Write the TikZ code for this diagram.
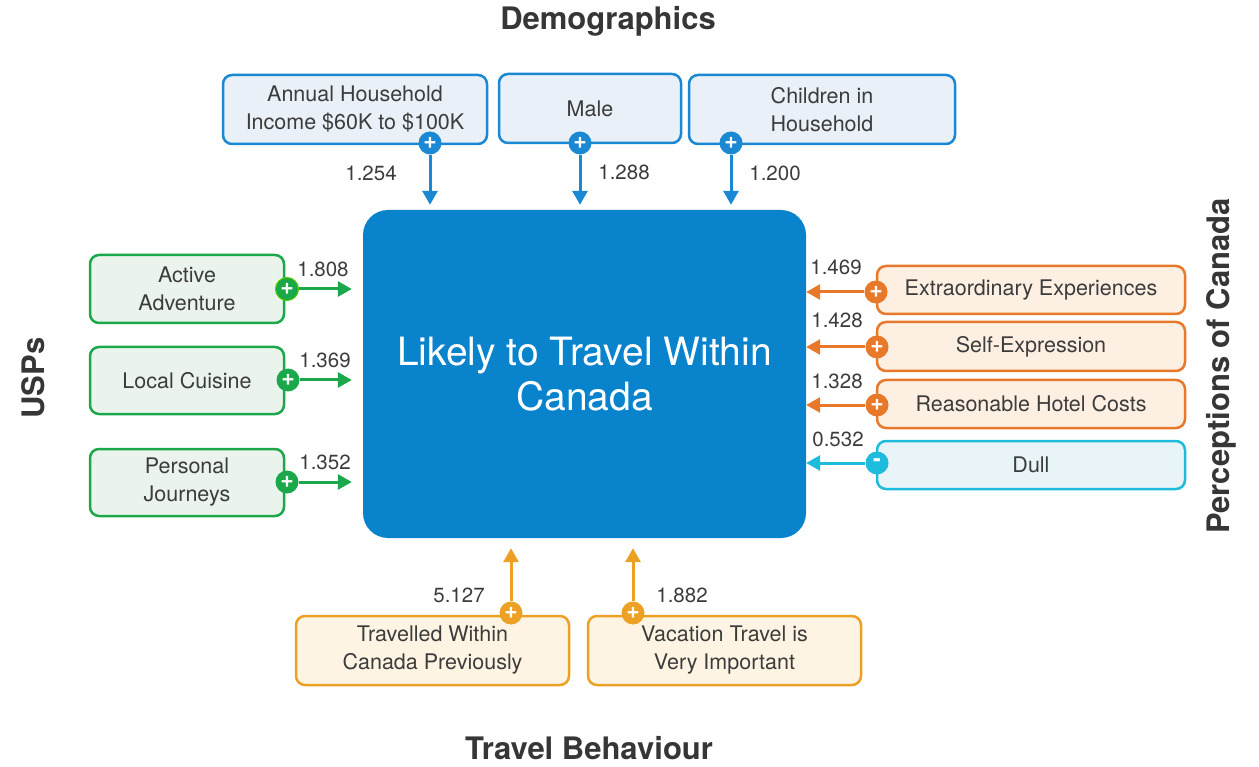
\documentclass[tikz,border=0pt]{standalone}
\usepackage{fontspec}
\setmainfont{TeX Gyre Heros}
\usepackage{xcolor}
\usetikzlibrary{arrows.meta,positioning,calc}

\definecolor{mainblue}{HTML}{0A83CD}
\definecolor{demoline}{HTML}{1A88D2}
\definecolor{demofill}{HTML}{E9F0F8}
\definecolor{uspline}{HTML}{1BA84B}
\definecolor{uspfill}{HTML}{EAF4EC}
\definecolor{percline}{HTML}{E8782A}
\definecolor{percfill}{HTML}{FDEFE1}
\definecolor{dullline}{HTML}{1DBCDC}
\definecolor{dullfill}{HTML}{E8F4F7}
\definecolor{travline}{HTML}{EDA124}
\definecolor{travfill}{HTML}{FEF4E3}
\definecolor{txt}{HTML}{3C3C3C}

\begin{document}
\begin{tikzpicture}[x=1pt, y=-1pt,
    factor/.style 2 args={draw=#1, fill=#2, line width=2.5pt, rounded corners=9pt,
        align=center, text=txt, inner sep=0pt, font=\fontsize{21.5}{28}\selectfont},
    sign/.style={circle, fill=#1, text=white, inner sep=0pt, minimum size=23pt,
        font=\bfseries\fontsize{23}{23}\selectfont},
    flow/.style={draw=#1, line width=3pt, -{Triangle[length=14pt,width=15pt]}},
    val/.style={text=txt, font=\fontsize{20.5}{20.5}\selectfont},
    heading/.style={text=txt!90!black, font=\bfseries\fontsize{31}{31}\selectfont}]
    \useasboundingbox (0,0) rectangle (1259,767);

    % Centre box
    \node[fill=mainblue, rounded corners=25pt, minimum width=443pt, minimum height=328pt,
        text=white, align=center, font=\fontsize{39}{45}\selectfont] (main) at (584.5,374)
        {Likely to Travel Within\\Canada};

    % Demographics
    \node[heading] (demo) at (608,21) {Demographics};
    \node[factor={demoline}{demofill}, minimum width=264pt, minimum height=69pt] (income) at (355,109.5)
        {Annual Household\\Income \$60K to \$100K};
    \node[factor={demoline}{demofill}, minimum width=182pt, minimum height=69pt] (male) at (590,108.5) {Male};
    \node[factor={demoline}{demofill}, minimum width=266pt, minimum height=69pt] (kids) at (822,109.5)
        {Children in\\Household};
    \node[sign=demoline] (s-income) at (430,143) {+};
    \node[sign=demoline] (s-male) at (580,143) {+};
    \node[sign=demoline] (s-kids) at (731,143) {+};
    \draw[flow=demoline, shorten >=5pt] (s-income) -- (s-income |- main.north);
    \draw[flow=demoline, shorten >=5pt] (s-male) -- (s-male |- main.north);
    \draw[flow=demoline, shorten >=5pt] (s-kids) -- (s-kids |- main.north);
    \node[val] (v-income) at (371,173) {1.254};
    \node[val] (v-male) at (624,172) {1.288};
    \node[val] (v-kids) at (775,173) {1.200};

    % USPs
    \node[heading, rotate=90] (usp) at (33,378) {USPs};
    \node[factor={uspline}{uspfill}, minimum width=194pt, minimum height=68pt] (adv) at (187,289) {Active\\Adventure};
    \node[factor={uspline}{uspfill}, minimum width=194pt, minimum height=67pt] (food) at (187,380.5) {Local Cuisine};
    \node[factor={uspline}{uspfill}, minimum width=194pt, minimum height=67pt] (journ) at (187,482.5) {Personal\\Journeys};
    \node[sign=uspline, draw=green!60!yellow!80!black, line width=1pt] (s-adv) at (287,289) {+};
    \node[sign=uspline] (s-food) at (288,380) {+};
    \node[sign=uspline] (s-journ) at (287,482) {+};
    \draw[flow=uspline, shorten >=11pt] (s-adv) -- (s-adv -| main.west);
    \draw[flow=uspline, shorten >=11pt] (s-food) -- (s-food -| main.west);
    \draw[flow=uspline, shorten >=11pt] (s-journ) -- (s-journ -| main.west);
    \node[val] (v-adv) at (323,269) {1.808};
    \node[val] (v-food) at (325,360) {1.369};
    \node[val] (v-journ) at (325,462) {1.352};

    % Perceptions of Canada
    \node[heading, rotate=90] (perc) at (1221,366) {Perceptions of Canada};
    \node[factor={percline}{percfill}, minimum width=308pt, minimum height=48pt] (extra) at (1031,290) {Extraordinary Experiences};
    \node[factor={percline}{percfill}, minimum width=308pt, minimum height=49pt] (self) at (1031,346.5) {Self-Expression};
    \node[factor={percline}{percfill}, minimum width=308pt, minimum height=48pt] (hotel) at (1031,404) {Reasonable Hotel Costs};
    \node[factor={dullline}{dullfill}, minimum width=308pt, minimum height=48pt] (dull) at (1031,465) {Dull};
    \node[sign=percline] (s-extra) at (876,292) {+};
    \node[sign=percline] (s-self) at (877,347) {+};
    \node[sign=percline] (s-hotel) at (877,405) {+};
    \node[sign=dullline] (s-dull) at (877,463) {-};
    \draw[flow=percline] (s-extra) -- (s-extra -| main.east);
    \draw[flow=percline] (s-self) -- (s-self -| main.east);
    \draw[flow=percline] (s-hotel) -- (s-hotel -| main.east);
    \draw[flow=dullline] (s-dull) -- (s-dull -| main.east);
    \node[val] (v-extra) at (836,267) {1.469};
    \node[val] (v-self) at (837,320) {1.428};
    \node[val] (v-hotel) at (837,381) {1.328};
    \node[val] (v-dull) at (838,439) {0.532};

    % Travel Behaviour
    \node[heading] (trav) at (589,748) {Travel Behaviour};
    \node[factor={travline}{travfill}, minimum width=273pt, minimum height=69pt] (prev) at (432.5,650.5)
        {Travelled Within\\Canada Previously};
    \node[factor={travline}{travfill}, minimum width=273pt, minimum height=69pt] (vac) at (724.5,650.5)
        {Vacation Travel is\\Very Important};
    \node[sign=travline] (s-prev) at (511,613) {+};
    \node[sign=travline] (s-vac) at (633,613) {+};
    \draw[flow=travline, shorten >=10pt] (s-prev) -- (s-prev |- main.south);
    \draw[flow=travline, shorten >=10pt] (s-vac) -- (s-vac |- main.south);
    \node[val] (v-prev) at (459,595) {5.127};
    \node[val] (v-vac) at (682,595) {1.882};
\end{tikzpicture}
\end{document}
